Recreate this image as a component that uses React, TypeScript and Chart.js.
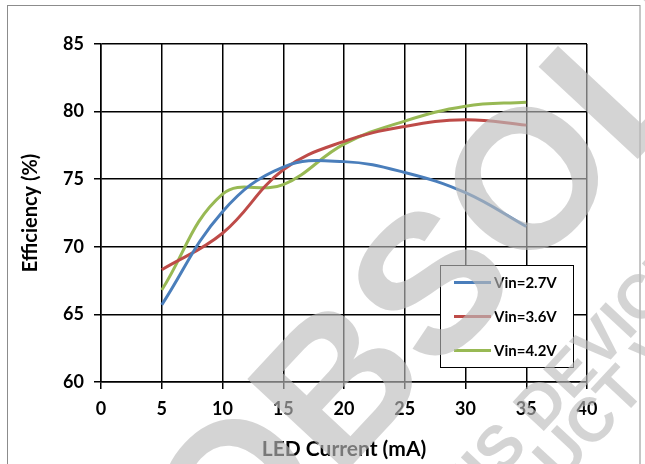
import React, { useEffect, useRef } from "react";
import { Chart, registerables } from "chart.js";

Chart.register(...registerables);

const currents = [5, 10, 15, 20, 25, 30, 35];
const vin27 = [65.7, 72.6, 75.9, 76.3, 75.5, 74.0, 71.5];
const vin36 = [68.3, 71.0, 75.7, 77.8, 78.9, 79.4, 79.0];
const vin42 = [66.8, 73.9, 74.6, 77.6, 79.3, 80.4, 80.7];
const seriesLabels = ["Vin=2.7V", "Vin=3.6V", "Vin=4.2V"];
const seriesColors = ["#4A7EBB", "#BE4B48", "#98B954"];
const xTitle = "LED Current (mA)";
const yTitle = "Efficiency (%)";
const watermarkMain = "OBSOLETE";
const watermarkLine2 = "THIS DEVICE";
const watermarkLine3 = "PRODUCT VIEW";

const FONT = "Lato, 'Open Sans', sans-serif";

const framePlugin = {
  id: "frame",
  beforeDraw(chart: any) {
    const ctx = chart.ctx;
    ctx.save();
    ctx.fillStyle = "#ffffff";
    ctx.fillRect(0, 0, chart.width, chart.height);
    ctx.strokeStyle = "#8c8c8c";
    ctx.lineWidth = 1;
    ctx.strokeRect(7.5, 5.5, 632.5, 470);
    ctx.restore();
  },
};

const legendPlugin = {
  id: "boxLegend",
  afterDatasetsDraw(chart: any) {
    const ctx = chart.ctx;
    const x0 = 440.5, y0 = 265.5, w = 133, h = 102;
    ctx.save();
    ctx.fillStyle = "#ffffff";
    ctx.fillRect(x0, y0, w, h);
    ctx.strokeStyle = "#000000";
    ctx.lineWidth = 1;
    ctx.strokeRect(x0, y0, w, h);
    ctx.font = `bold 15px ${FONT}`;
    ctx.textBaseline = "middle";
    ctx.fillStyle = "#000";
    chart.data.datasets.forEach((ds: any, i: number) => {
      const yy = y0 + 17 + i * 34;
      ctx.strokeStyle = ds.borderColor;
      ctx.lineWidth = 3;
      ctx.beginPath();
      ctx.moveTo(454, yy);
      ctx.lineTo(491, yy);
      ctx.stroke();
      ctx.fillText(ds.label, 494, yy + 1);
    });
    ctx.restore();
  },
};

const watermarkPlugin = {
  id: "watermark",
  afterDraw(chart: any) {
    const ctx = chart.ctx;
    const ang = (-47 * Math.PI) / 180;
    ctx.save();
    ctx.fillStyle = "rgba(187,187,187,0.64)";
    ctx.textBaseline = "alphabetic";
    ctx.textAlign = "left";
    ctx.font = "bold 197px 'Liberation Sans', Arial, sans-serif";
    ctx.save();
    ctx.translate(233, 593);
    ctx.rotate(ang);
    ctx.fillText(watermarkMain, 0, 0);
    ctx.restore();
    ctx.font = "bold 62px 'Liberation Sans', Arial, sans-serif";
    ctx.save();
    ctx.translate(433, 550);
    ctx.rotate(ang);
    ctx.fillText(watermarkLine2, 0, 0);
    ctx.restore();
    ctx.save();
    ctx.translate(438, 615);
    ctx.rotate(ang);
    ctx.fillText(watermarkLine3, 0, 0);
    ctx.restore();
    ctx.restore();
  },
};

export default function App() {
  const ref = useRef<HTMLCanvasElement | null>(null);
  useEffect(() => {
    document.body.style.margin = "0";
    if (!ref.current) return;
    const mk = (vals: number[]) => vals.map((v, i) => ({ x: currents[i], y: v }));
    const series = [vin27, vin36, vin42];
    const chart = new Chart(ref.current, {
      type: "line",
      data: {
        datasets: series.map((s, i) => ({
          label: seriesLabels[i],
          data: mk(s),
          borderColor: seriesColors[i],
          backgroundColor: seriesColors[i],
          borderWidth: 3,
          pointRadius: 0,
          tension: 0.4,
          fill: false,
        })),
      },
      options: {
        animation: false,
        responsive: false,
        layout: { padding: { left: 0, right: 58, top: 44, bottom: 0 } },
        plugins: { legend: { display: false }, tooltip: { enabled: false } },
        scales: {
          x: {
            type: "linear",
            min: 0,
            max: 40,
            afterFit: (s: any) => { s.height = 82; },
            ticks: { stepSize: 5, color: "#000", padding: 9, font: { family: FONT, size: 18, weight: "bold" } },
            grid: { color: "#000", lineWidth: 1.5, tickLength: 7 },
            border: { color: "#000", width: 1.5 },
            title: { display: true, text: xTitle, color: "#000", padding: { top: 0, bottom: 2 }, font: { family: FONT, size: 21, weight: "bold" } },
          },
          y: {
            type: "linear",
            min: 60,
            max: 85,
            afterFit: (s: any) => { s.width = 101; },
            ticks: { stepSize: 5, color: "#000", padding: 10, font: { family: FONT, size: 18, weight: "bold" } },
            grid: { color: "#000", lineWidth: 1.5, tickLength: 7 },
            border: { color: "#000", width: 1.5 },
            title: { display: true, text: yTitle, color: "#000", padding: { top: 19, bottom: 0 }, font: { family: FONT, size: 20, weight: "bold" } },
          },
        },
      },
      plugins: [framePlugin, legendPlugin, watermarkPlugin],
    } as any);
    return () => chart.destroy();
  }, []);
  return (
    <div style={{ width: 645, height: 464 }}>
      <canvas ref={ref} width={645} height={464} style={{ display: "block" }} />
    </div>
  );
}
